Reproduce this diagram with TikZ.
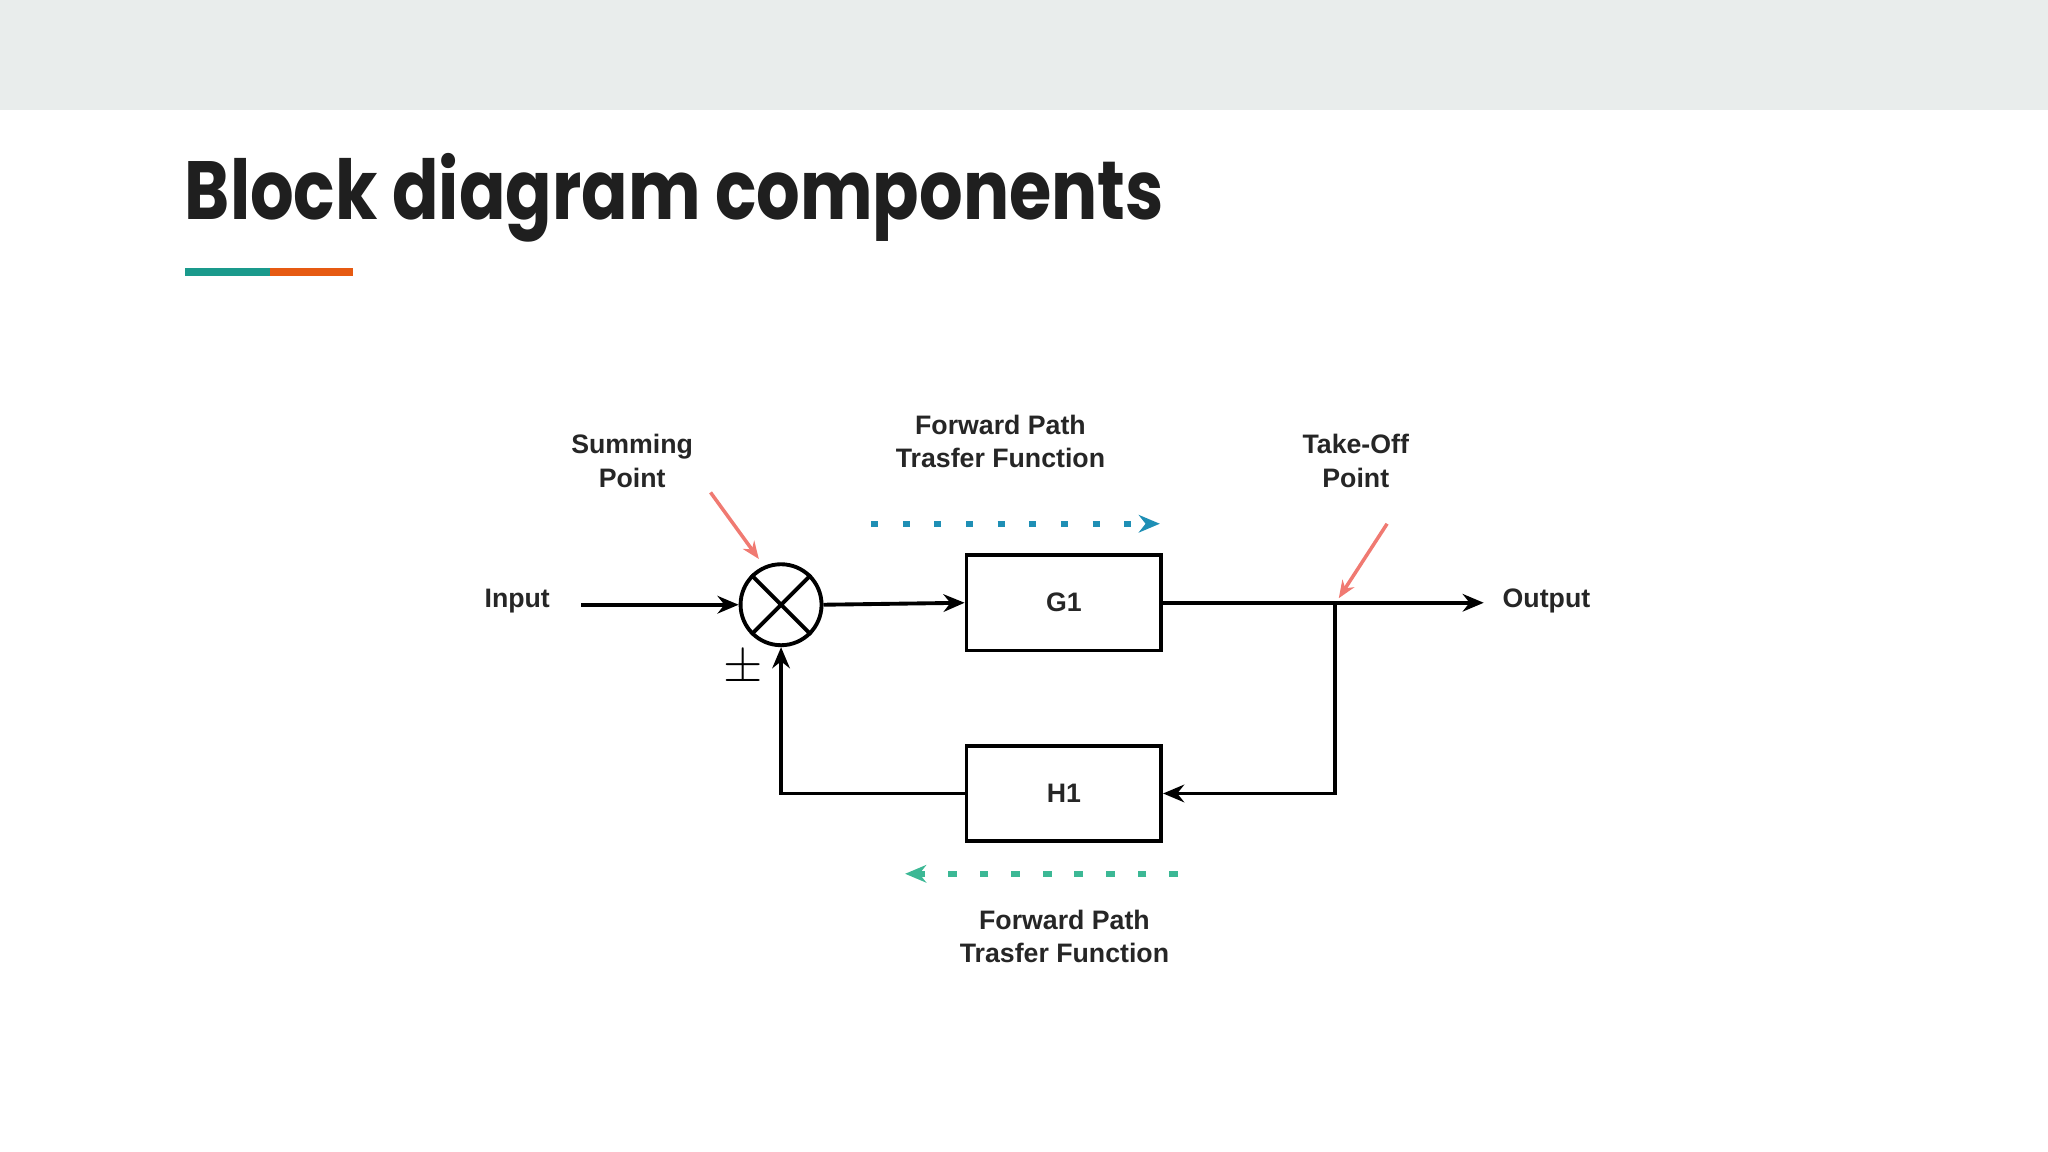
\documentclass[tikz,border=0pt]{standalone}
\usepackage{fontspec}
\setmainfont{Liberation Sans}
\newfontfamily\titlefont{Poppins}
\usetikzlibrary{arrows.meta}
\definecolor{band}{HTML}{E9EDEC}
\definecolor{teal1}{HTML}{1A9A8C}
\definecolor{orng}{HTML}{E65A12}
\definecolor{redarr}{HTML}{F07A72}
\definecolor{bluearr}{HTML}{1F8FB5}
\definecolor{greenarr}{HTML}{3CB895}
\tikzset{
 lbl/.style={font=\bfseries\fontsize{7.6}{9.6}\selectfont, align=center, text=black!85},
 blk/.style={draw, line width=1.1pt, minimum width=149*0.013061cm, minimum height=73*0.013061cm, inner sep=0},
 wire/.style={line width=1.1pt, -{Stealth[length=6pt,width=5pt]}},
 redp/.style={redarr, line width=1pt, -{Stealth[length=5pt,width=4pt]}},
}
\begin{document}
\begin{tikzpicture}[x=0.013061cm, y=-0.013061cm]
\useasboundingbox (0,0) rectangle (1568,882);
\fill[band] (0,0) rectangle (1568,84);
\node[anchor=base west, inner sep=0, font=\titlefont\bfseries\fontsize{23.5}{28}\selectfont, text=black!88] (title) at (141,168) {\scalebox{0.83}[1]{Block diagram components}};
\fill[teal1] (142,205) rectangle (207,211);
\fill[orng] (207,205) rectangle (270,211);
% diagram
\node[draw, circle, line width=1.1pt, minimum size=62*0.013061cm, inner sep=0] (sum) at (598,463) {};
\draw[line width=1.1pt] (sum.north east) -- (sum.south west) (sum.north west) -- (sum.south east);
\node[blk, lbl] (g1) at (814.5,461.5) {G1};
\node[blk, lbl] (h1) at (814.5,607.5) {H1};
\node[lbl] (in) at (396,460) {Input};
\node[lbl] (out) at (1184,460) {Output};
\coordinate (inE) at (445,463);
\coordinate (outE) at (1136,461.5);
\coordinate (tk) at (1022,461.5);
\coordinate (tkd) at (1022,607.5);
\coordinate (fbc) at (598,607.5);
\draw[wire] (inE) -- (sum.west);
\draw[wire] (sum.east) -- (g1.west);
\draw[wire] (g1.east) -- (outE);
\draw[wire] (tk) -- (tkd) -- (h1.east);
\draw[wire] (h1.west) -- (fbc) -- (sum.south);
\node[font=\fontsize{14}{15}\selectfont] (pm) at (569,512) {$\pm$};
\node[lbl] (sp) at (484,353) {Summing\\Point};
\node[lbl] (tp) at (1038,353) {Take-Off\\Point};
\node[lbl] (ft) at (766,338) {Forward Path\\Trasfer Function};
\node[lbl] (fb) at (815,717) {Forward Path\\Trasfer Function};
\coordinate (r1a) at (544,377); \coordinate (r1b) at (581,428);
\coordinate (r2a) at (1062,401); \coordinate (r2b) at (1025,458);
\draw[redp] (r1a) -- (r1b);
\draw[redp] (r2a) -- (r2b);
\coordinate (b1) at (667,401); \coordinate (b2) at (888,401);
\coordinate (c1) at (902,669); \coordinate (c2) at (693,669);
\draw[bluearr, line width=1.6pt, dash pattern=on 2pt off 7pt, -{Stealth[length=6pt,width=5pt]}] (b1) -- (b2);
\draw[greenarr, line width=1.6pt, dash pattern=on 2.5pt off 6.5pt, -{Stealth[length=6pt,width=5pt]}] (c1) -- (c2);
\end{tikzpicture}
\end{document}
